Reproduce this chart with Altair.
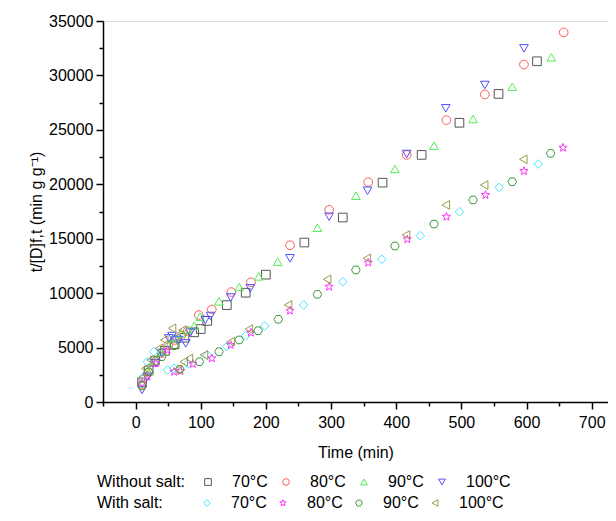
import math
import altair as alt
import pandas as pd

# ---- data ----
temps = ["70°C", "80°C", "90°C", "100°C"]

# Without salt
ws70_t = [10, 20, 30, 45, 60, 75, 90, 100, 110, 140, 169, 200, 259, 318, 379, 439, 497, 557, 616]
ws70_y = [1800, 2900, 3800, 4700, 5300, 5900, 6400, 6700, 7450, 8900, 10040, 11700, 14650, 16950, 20150, 22700, 25650, 28300, 31300]
ws80_t = [10, 20, 30, 40, 50, 60, 70, 80, 97, 117, 147, 177, 237, 297, 357, 416, 477, 536, 596, 657]
ws80_y = [1600, 2700, 3700, 4500, 5200, 5700, 6100, 6500, 7990, 8500, 10100, 11000, 14400, 17650, 20200, 22700, 25900, 28250, 31000, 33950]
ws90_t = [10, 20, 30, 40, 50, 60, 70, 80, 90, 99, 128, 159, 189, 218, 279, 338, 398, 458, 518, 578, 638]
ws90_y = [1700, 2800, 3800, 4600, 5300, 5900, 6300, 6600, 7010, 7840, 9250, 10560, 11540, 12890, 16010, 18950, 21400, 23550, 26000, 28960, 31660]
ws100_t = [10, 18, 31, 40, 51, 56, 66, 77, 84, 107, 115, 146, 176, 237, 297, 356, 416, 476, 536, 596]
ws100_y = [1100, 2320, 3550, 4500, 5850, 6060, 5700, 5380, 6370, 7530, 7900, 9600, 10440, 13200, 17020, 19410, 22780, 26980, 29120, 32490]

# With salt
s70_t = [10, 18, 28, 49, 59, 80, 110, 140, 169, 198, 258, 318, 378, 437, 497, 558, 618]
s70_y = [2200, 3700, 4620, 2940, 3090, 3500, 4300, 5100, 6090, 6980, 8910, 11050, 13110, 15280, 17480, 19720, 21860]
s80_t = [10, 18, 31, 49, 59, 69, 88, 117, 146, 177, 237, 297, 357, 417, 477, 537, 596, 656]
s80_y = [1700, 2320, 3550, 4780, 2780, 2850, 3500, 4010, 5240, 6370, 8390, 10590, 12800, 14950, 17020, 19020, 21220, 23360]
s90_t = [10, 20, 40, 59, 68, 98, 128, 159, 188, 219, 279, 338, 398, 458, 518, 578, 637]
s90_y = [1470, 2780, 4160, 5170, 3000, 3700, 4620, 5700, 6550, 7600, 9890, 12130, 14330, 16350, 18560, 20240, 22840]
s100_t = [8, 15, 23, 36, 44, 56, 72, 65, 74, 82, 105, 146, 174, 234, 294, 355, 415, 476, 535, 595]
s100_y = [2170, 3090, 3860, 4930, 5700, 6770, 6610, 3000, 3700, 4000, 4320, 5540, 6700, 8910, 11270, 13200, 15340, 18100, 19930, 22300]

ws_colors = ["#555555", "#ff5a5a", "#55ee55", "#5050ff"]
s_colors = ["#44e8ff", "#ff33ff", "#3f9a3f", "#9a9a4a"]

# marker shapes
star_pts = []
for k in range(10):
    r = 1.0 if k % 2 == 0 else 0.42
    a = -math.pi / 2 + k * math.pi / 5
    star_pts.append((r * math.cos(a), r * math.sin(a)))
star_path = "M" + "L".join(f"{x:.3f},{y:.3f}" for x, y in star_pts) + "Z"
hex_path = "M1,0L0.5,0.866L-0.5,0.866L-1,0L-0.5,-0.866L0.5,-0.866Z"

ws_shapes = ["square", "circle", "triangle-up", "triangle-down"]
s_shapes = ["diamond", star_path, hex_path, "triangle-left"]


def frame(ts, ys, label):
    return pd.DataFrame({"t": ts, "y": ys, "temp": label})


df_ws = pd.concat([
    frame(ws70_t, ws70_y, temps[0]), frame(ws80_t, ws80_y, temps[1]),
    frame(ws90_t, ws90_y, temps[2]), frame(ws100_t, ws100_y, temps[3]),
])
df_s = pd.concat([
    frame(s70_t, s70_y, temps[0]), frame(s80_t, s80_y, temps[1]),
    frame(s90_t, s90_y, temps[2]), frame(s100_t, s100_y, temps[3]),
])

FONT = "Liberation Sans"

xvals = list(range(-50, 701, 50))
yvals = list(range(0, 35001, 2500))

x_enc = alt.X(
    "t:Q",
    scale=alt.Scale(domain=[-50, 725], nice=False, zero=False),
    axis=alt.Axis(
        title="Time (min)", values=xvals, grid=False,
        labelExpr="(datum.value % 100 === 0 && datum.value >= 0) ? datum.label : ''",
        tickSize={"condition": {"test": "datum.value % 100 === 0", "value": 7}, "value": 4},
        labelFontSize=16, titleFontSize=16, labelFont=FONT, titleFont=FONT,
        titleFontWeight=400, labelColor="black", titleColor="black",
        domainColor="black", tickColor="black", domainWidth=1.5, tickWidth=1.5,
        labelPadding=5, titlePadding=14,
    ),
)
y_enc = alt.Y(
    "y:Q",
    scale=alt.Scale(domain=[0, 35000], nice=False),
    axis=alt.Axis(
        title="t/[D]f,t (min g g⁻¹)", values=yvals, grid=False, format="d",
        labelExpr="datum.value % 5000 === 0 ? datum.label : ''",
        tickSize={"condition": {"test": "datum.value % 5000 === 0", "value": 7}, "value": 4},
        labelFontSize=16, titleFontSize=16, labelFont=FONT, titleFont=FONT,
        titleFontWeight=400, labelColor="black", titleColor="black",
        domainColor="black", tickColor="black", domainWidth=1.5, tickWidth=1.5,
        labelPadding=3, titlePadding=4,
    ),
)


def legend(title, y, tpad, cpad):
    return alt.Legend(
        title=title, orient="none", legendX=-6, legendY=y,
        direction="horizontal", titleOrient="left", titlePadding=tpad,
        titleFontSize=16, titleFont=FONT, titleFontWeight=400, titleColor="black",
        labelFontSize=16, labelFont=FONT, labelColor="black",
        symbolSize=45, symbolStrokeWidth=1, labelOffset=16, columnPadding=cpad,
        titleBaseline="middle",
    )


pts_ws = alt.Chart(df_ws).mark_point(filled=False, size=75, strokeWidth=1, opacity=1).encode(
    x=x_enc, y=y_enc,
    color=alt.Color("temp:N", sort=temps, scale=alt.Scale(domain=temps, range=ws_colors),
                    legend=legend("Without salt:", 453, 14, 10)),
    shape=alt.Shape("temp:N", sort=temps, scale=alt.Scale(domain=temps, range=ws_shapes),
                    legend=legend("Without salt:", 453, 14, 10)),
)
pts_s = alt.Chart(df_s).mark_point(filled=False, size=75, strokeWidth=1, opacity=1).encode(
    x=x_enc, y=y_enc,
    color=alt.Color("temp:N", sort=temps, scale=alt.Scale(domain=temps, range=s_colors),
                    legend=legend("With salt:", 474, 36, 8)),
    shape=alt.Shape("temp:N", sort=temps, scale=alt.Scale(domain=temps, range=s_shapes),
                    legend=legend("With salt:", 474, 36, 8)),
)

chart = alt.layer(pts_ws, pts_s).resolve_scale(
    color="independent", shape="independent"
).properties(
    width=505, height=381,
    padding={"left": 95, "top": 13, "right": 0, "bottom": 111},
    autosize=alt.AutoSizeParams(type="none"),
).configure_view(stroke=None).configure(background="white")

chart.save("out.html", embed_options={"renderer": "svg", "actions": False})
